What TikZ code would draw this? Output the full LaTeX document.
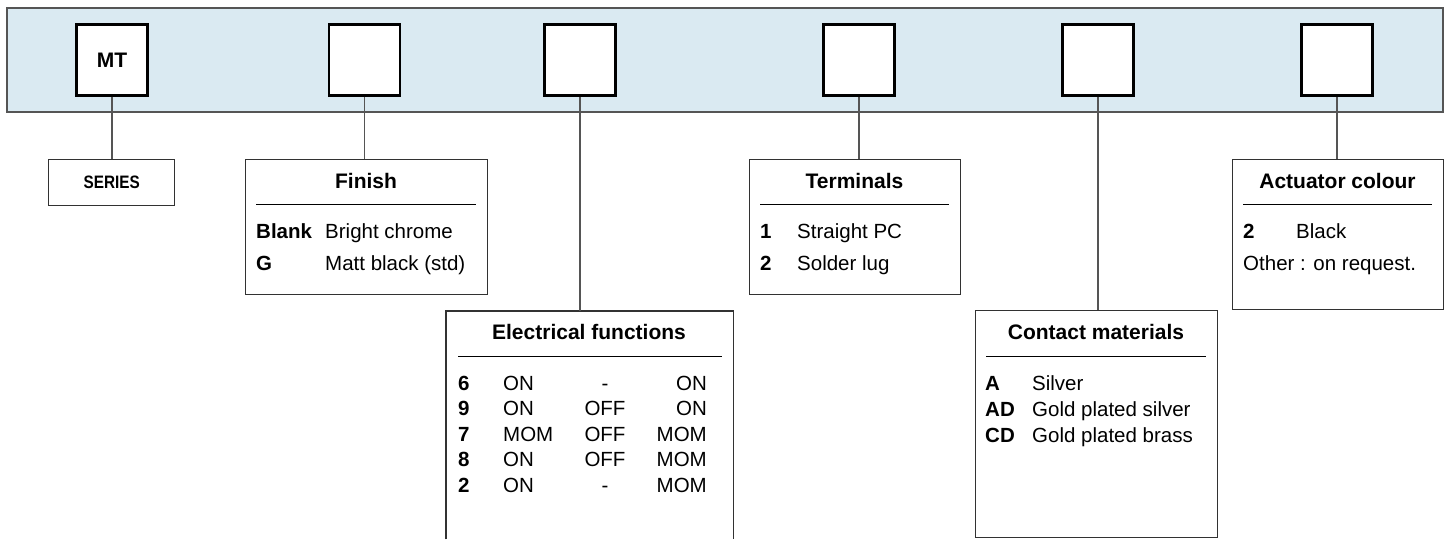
\documentclass[tikz,border=0pt]{standalone}
\usepackage{fontspec}
\setmainfont{Liberation Sans}
\newfontfamily\narrowbold[FakeStretch=0.85]{Liberation Sans Bold}
\definecolor{bandfill}{RGB}{218,234,242}
\definecolor{bandline}{RGB}{85,85,85}
\definecolor{boxline}{RGB}{50,50,50}
\definecolor{connline}{RGB}{85,85,85}
\tikzset{
  band/.style={draw=bandline, fill=bandfill, line width=1.5pt},
  slot/.style={draw=black, fill=white, line width=2.6pt, minimum width=71pt, minimum height=71pt, inner sep=0pt, font=\bfseries\fontsize{21}{24}\selectfont},
  labelbox/.style={draw=boxline, line width=1.3pt, inner sep=0pt, anchor=north west},
  openbox/.style={draw=none, inner sep=0pt, anchor=north west},
  conn/.style={draw=connline, line width=1.3pt},
  rulel/.style={draw=black, line width=1pt},
  ttl/.style={anchor=base, font=\bfseries\fontsize{21}{24}\selectfont, inner sep=0pt},
  txt/.style={anchor=base west, font=\fontsize{20.5}{24}\selectfont, inner sep=0pt},
  txtc/.style={anchor=base, font=\fontsize{20.5}{24}\selectfont, inner sep=0pt},
  txte/.style={anchor=base east, font=\fontsize{20.5}{24}\selectfont, inner sep=0pt},
  keyt/.style={anchor=base west, font=\bfseries\fontsize{20.5}{24}\selectfont, inner sep=0pt},
}
\begin{document}
\begin{tikzpicture}[x=1pt, y=-1pt]
\useasboundingbox (0,0) rectangle (1451,539);
% band
\path[band] (7,8) rectangle (1443,112);
% slots
\node[slot] (s1) at (112,60) {MT};
\node[slot] (s2) at (364.5,60) {};
\node[slot] (s3) at (580,60) {};
\node[slot] (s4) at (859,60) {};
\node[slot] (s5) at (1098,60) {};
\node[slot] (s6) at (1337,60) {};
% label boxes
\node[labelbox, minimum width=126pt, minimum height=46pt, font=\narrowbold\fontsize{18}{20}\selectfont] (series) at (48,159) {SERIES};
\node[labelbox, minimum width=242pt, minimum height=135pt] (finish) at (245,159) {};
\node[openbox, minimum width=287pt, minimum height=228pt] (elec) at (446,311) {};
\node[labelbox, minimum width=211pt, minimum height=135pt] (term) at (749,159) {};
\node[labelbox, minimum width=242pt, minimum height=227pt] (contact) at (975,310) {};
\node[labelbox, minimum width=211pt, minimum height=150pt] (act) at (1232,159) {};
\draw[draw=boxline, line width=1.3pt] (elec.south west) -- (elec.north west) -- (elec.north east) -- (elec.south east);
% connectors
\draw[conn] (s1.south) -- (s1.south |- series.north);
\draw[conn] (s2.south) -- (s2.south |- finish.north);
\draw[conn] (s3.south) -- (s3.south |- elec.north);
\draw[conn] (s4.south) -- (s4.south |- term.north);
\draw[conn] (s5.south) -- (s5.south |- contact.north);
\draw[conn] (s6.south) -- (s6.south |- act.north);
% Finish
\node[ttl] (finT) at (366,188) {Finish};
\draw[rulel] (256,204) -- (476,204);
\node[keyt] (finK1) at (256,238) {Blank};
\node[txt] (finD1) at (325,238) {Bright chrome};
\node[keyt] (finK2) at (256,270) {G};
\node[txt] (finD2) at (325,270) {Matt black (std)};
% Electrical functions
\node[ttl] (elT) at (589,339) {Electrical functions};
\draw[rulel] (458,356) -- (722,356);
\node[keyt] (e1k) at (458,390) {6};
\node[txt] (e1a) at (503,390) {ON};
\node[txtc] (e1b) at (605,390) {-};
\node[txte] (e1c) at (707,390) {ON};
\node[keyt] (e2k) at (458,415.5) {9};
\node[txt] (e2a) at (503,415.5) {ON};
\node[txtc] (e2b) at (605,415.5) {OFF};
\node[txte] (e2c) at (707,415.5) {ON};
\node[keyt] (e3k) at (458,441) {7};
\node[txt] (e3a) at (503,441) {MOM};
\node[txtc] (e3b) at (605,441) {OFF};
\node[txte] (e3c) at (707,441) {MOM};
\node[keyt] (e4k) at (458,466.5) {8};
\node[txt] (e4a) at (503,466.5) {ON};
\node[txtc] (e4b) at (605,466.5) {OFF};
\node[txte] (e4c) at (707,466.5) {MOM};
\node[keyt] (e5k) at (458,492) {2};
\node[txt] (e5a) at (503,492) {ON};
\node[txtc] (e5b) at (605,492) {-};
\node[txte] (e5c) at (707,492) {MOM};
% Terminals
\node[ttl] (teT) at (854.5,188) {Terminals};
\draw[rulel] (760,204) -- (949,204);
\node[keyt] (t1k) at (760,238) {1};
\node[txt] (t1d) at (797,238) {Straight PC};
\node[keyt] (t2k) at (760,270) {2};
\node[txt] (t2d) at (797,270) {Solder lug};
% Contact materials
\node[ttl] (coT) at (1096,339) {Contact materials};
\draw[rulel] (986,356) -- (1206,356);
\node[keyt] (c1k) at (985,390) {A};
\node[txt] (c1d) at (1032,390) {Silver};
\node[keyt] (c2k) at (985,416) {AD};
\node[txt] (c2d) at (1032,416) {Gold plated silver};
\node[keyt] (c3k) at (985,442) {CD};
\node[txt] (c3d) at (1032,442) {Gold plated brass};
% Actuator colour
\node[ttl] (acT) at (1337.5,188) {Actuator colour};
\draw[rulel] (1243,204) -- (1432,204);
\node[keyt] (a1k) at (1243,238) {2};
\node[txt] (a1d) at (1296,238) {Black};
\node[txt] (a2d) at (1243,270) {Other : on request.};
\end{tikzpicture}
\end{document}
